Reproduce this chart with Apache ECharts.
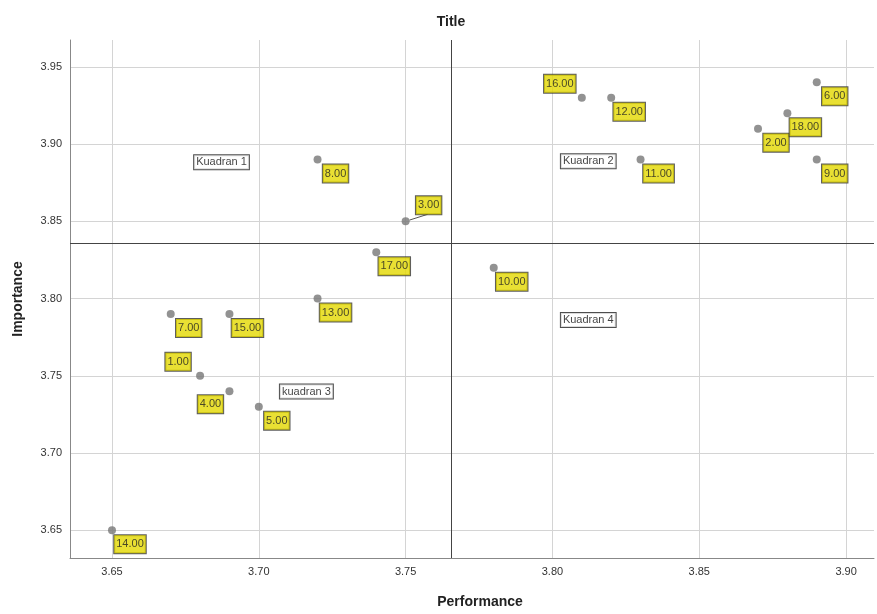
<!DOCTYPE html>
<html>
<head>
<meta charset="utf-8">
<script src="https://cdn.jsdelivr.net/npm/echarts@6/dist/echarts.min.js"></script>
<style>html,body{margin:0;padding:0;background:#fff;overflow:hidden}#c{width:100vw;height:100vh}</style>
</head>
<body>
<div id="c"></div>
<script>
// ---- data ----
const ids = [1,2,3,4,5,6,7,8,9,10,11,12,13,14,15,16,17,18];
const performance = [3.68,3.87,3.75,3.69,3.70,3.89,3.67,3.72,3.89,3.78,3.83,3.82,3.72,3.65,3.69,3.81,3.74,3.88];
const importance  = [3.75,3.91,3.85,3.74,3.73,3.94,3.79,3.89,3.89,3.82,3.89,3.93,3.80,3.65,3.79,3.93,3.83,3.92];
const meanPerformance = 3.7656;
const meanImportance = 3.8361;
const quadrantNames = ['Kuadran 1','Kuadran 2','kuadran 3','Kuadran 4'];
const quadrantX = [3.6873, 3.8122, 3.7162, 3.8122];
const quadrantY = [3.8883, 3.8889, 3.7398, 3.7861];
const xRange = [3.6357, 3.9095];
const yRange = [3.6320, 3.9674];

// ---- label placement (style) ----
const OFF = {lr:[18,14], ul:[-22,-14], ll:[-19,13], ur:[23,-16]};
const placement = {16:'ul', 1:'ul', 4:'ll', 3:'ur'};

const pointData = ids.map((id,i)=>{
  const item = {value:[performance[i], importance[i]], name:String(id),
    label:{offset: OFF[placement[id]||'lr']}};
  if (id===3) item.labelLine = {show:true, lineStyle:{color:'#555', width:1}};
  return item;
});
const quadData = quadrantNames.map((n,i)=>({value:[quadrantX[i], quadrantY[i]], name:n}));

const isTick = v => Math.abs(v/0.05 - Math.round(v/0.05)) < 1e-6;

const chart = echarts.init(document.getElementById('c'), null, {renderer:'canvas'});
chart.setOption({
  animation:false,
  backgroundColor:'#fff',
  textStyle:{fontFamily:'Arial, "Liberation Sans", sans-serif'},
  title:{text:'Title', left:446, top:10, textAlign:'center',
    textStyle:{fontSize:14, fontWeight:'bold', color:'#222'}},
  grid:{left:70, right:0, top:40, bottom:53},
  xAxis:{type:'value', min:xRange[0], max:xRange[1], splitNumber:5,
    name:'Performance', nameLocation:'middle', nameGap:37,
    nameTextStyle:{fontSize:14, fontWeight:'bold', color:'#222', padding:[0,0,0,16]},
    axisLine:{show:true, lineStyle:{color:'#888', width:1}},
    axisTick:{show:false},
    axisLabel:{fontSize:11, color:'#333', margin:8, formatter:v=>isTick(v)?v.toFixed(2):''},
    splitLine:{show:true, showMinLine:false, showMaxLine:false, lineStyle:{color:'#d4d4d4', width:1}}},
  yAxis:{type:'value', min:yRange[0], max:yRange[1], splitNumber:5,
    name:'Importance', nameLocation:'middle', nameGap:45, nameRotate:90,
    nameTextStyle:{fontSize:14, fontWeight:'bold', color:'#222'},
    axisLine:{show:true, lineStyle:{color:'#888', width:1}},
    axisTick:{show:false},
    axisLabel:{fontSize:11, color:'#333', margin:8, formatter:v=>isTick(v)?v.toFixed(2):''},
    splitLine:{show:true, showMinLine:false, showMaxLine:false, lineStyle:{color:'#d4d4d4', width:1}}},
  series:[
    {type:'scatter', data:pointData, symbolSize:8, itemStyle:{color:'#777'},
      label:{show:true, position:'inside', formatter:p=>Number(p.name).toFixed(2),
        backgroundColor:'#e3d800', borderColor:'#333', borderWidth:1,
        padding:[4,2,3,2], fontSize:11, color:'#222'},
      labelLine:{show:false},
      markLine:{silent:true, symbol:'none', precision:4, label:{show:false},
        lineStyle:{color:'#444', width:1, type:'solid'},
        data:[
          [{coord:[meanPerformance, yRange[0]]},{coord:[meanPerformance, yRange[1]]}],
          [{coord:[xRange[0], meanImportance]},{coord:[xRange[1], meanImportance]}]
        ]},
      z:3},
    {type:'scatter', data:quadData, symbolSize:0,
      label:{show:true, position:'inside', formatter:p=>p.name,
        backgroundColor:'#fff', borderColor:'#222', borderWidth:1,
        padding:[2,2,1,2], fontSize:11, color:'#111'}, z:2}
  ]
});
</script>
</body>
</html>
